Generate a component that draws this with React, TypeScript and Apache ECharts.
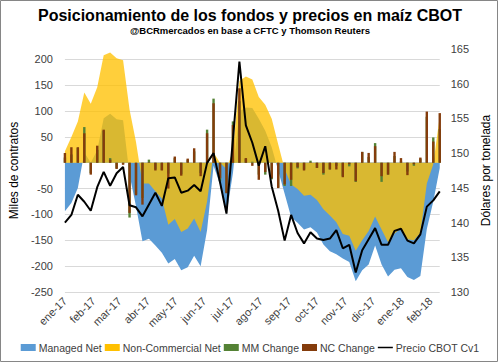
import React, { useEffect, useRef } from 'react';
import * as echarts from 'echarts';

const weeks = [
  '2017-01-03', '2017-01-10', '2017-01-17', '2017-01-24', '2017-01-31',
  '2017-02-07', '2017-02-14', '2017-02-21', '2017-02-28',
  '2017-03-07', '2017-03-14', '2017-03-21', '2017-03-28',
  '2017-04-04', '2017-04-11', '2017-04-18', '2017-04-25',
  '2017-05-02', '2017-05-09', '2017-05-16', '2017-05-23', '2017-05-30',
  '2017-06-06', '2017-06-13', '2017-06-20', '2017-06-27',
  '2017-07-04', '2017-07-11', '2017-07-18', '2017-07-25',
  '2017-08-01', '2017-08-08', '2017-08-15', '2017-08-22', '2017-08-29',
  '2017-09-05', '2017-09-12', '2017-09-19', '2017-09-26',
  '2017-10-03', '2017-10-10', '2017-10-17', '2017-10-24', '2017-10-31',
  '2017-11-07', '2017-11-14', '2017-11-21', '2017-11-28',
  '2017-12-05', '2017-12-12', '2017-12-19', '2017-12-26',
  '2018-01-02', '2018-01-09', '2018-01-16', '2018-01-23', '2018-01-30',
  '2018-02-06', '2018-02-13',
];

const managedNet = [
  -94, -78, -49, 20, 0, 24, 86, 95, 84, 82,
  -23, -84, -152, -147, -160, -174, -195, -186, -208, -202,
  -180, -200, -130, -6, -42, -100, -20, 99, 107, 106,
  85, 62, 30, -15, -60, -105, -116, -129, -125, -135,
  -158, -171, -177, -185, -192, -229, -208, -197, -160, -197,
  -220, -207, -204, -221, -227, -219, -128, -75, -10,
];

const nonCommercialNet = [
  22, 50, 80, 136, 114, 146, 208, 213, 202, 198,
  103, 40, -40, -40, -55, -69, -120, -109, -134, -127,
  -108, -134, -75, 20, 0, -12, 22, 158, 167, 161,
  127, 112, 85, 36, -12, -42, -51, -64, -62, -72,
  -90, -102, -115, -138, -141, -170, -150, -132, -104, -129,
  -154, -137, -127, -148, -150, -136, -40, -3, 90,
];

const mmChange = [
  10, 16, 29, 69, -20, 25, 62, 9, -11, -2,
  -106, -61, -68, 6, -13, -14, -21, 9, -22, 6,
  22, -20, 64, 124, -36, -58, 80, 119, 8, 2,
  -23, -23, -32, -48, -45, -45, -11, -13, 4, -10,
  -23, -13, -6, -26, -7, -37, 21, 11, 38, -37,
  -23, 13, 3, -17, -6, 8, 89, 49, 65,
];

const ncChange = [
  19, 30, 30, 57, -23, 33, 64, 6, -12, -4,
  -97, -63, -81, 1, -15, -15, -50, 12, -25, 8,
  28, -26, 57, 115, -30, -59, 73, 144, 9, -6,
  -33, -18, -30, -49, -42, -33, -9, -15, 1, -10,
  -20, -13, -13, -28, -3, -36, 21, 19, 32, -26,
  -23, 21, 9, -24, -3, 10, 99, 41, 96,
];

const precioCBOT = [
  140.0, 141.1, 144.0, 143.0, 141.7, 145.1, 147.3, 145.3, 147.1, 148.0,
  142.5, 142.2, 140.9, 142.6, 144.3, 142.4, 146.4, 146.5, 144.3, 144.6,
  145.4, 144.5, 148.6, 150.0, 145.8, 141.3, 152.0, 163.2, 154.0, 151.5,
  148.2, 151.0, 145.2, 141.7, 137.4, 141.1, 138.5, 137.0, 138.6, 137.7,
  137.5, 137.7, 138.9, 136.3, 136.8, 132.8, 136.0, 137.6, 139.2, 136.8,
  136.8, 138.8, 139.1, 137.4, 137.0, 138.3, 142.3, 143.2, 144.5,
];

const monthTicks = [
  '2017-01-03', '2017-02-03', '2017-03-03', '2017-04-03', '2017-05-03',
  '2017-06-03', '2017-07-03', '2017-08-03', '2017-09-03', '2017-10-03',
  '2017-11-03', '2017-12-03', '2018-01-03', '2018-02-03',
];
const monthNames = ['ene', 'feb', 'mar', 'abr', 'may', 'jun', 'jul', 'ago', 'sep', 'oct', 'nov', 'dic'];

const seriesNames = ['Managed Net', 'Non-Commercial Net', 'MM Change', 'NC Change', 'Precio CBOT Cv1'];

function ts(s: string): number {
  const [y, m, d] = s.split('-').map(Number);
  return new Date(y, m - 1, d).getTime();
}

const FONT = '"Liberation Sans", Arial, sans-serif';
const LINE_ICON =
  'path://M0,0L0.1,0L0.1,0.1L0,0.1Z M0,2.7L15,2.7L15,4.3L0,4.3Z M14.9,6.9L15,6.9L15,7L14.9,7Z';

export default function App() {
  const ref = useRef<HTMLDivElement>(null);

  useEffect(() => {
    if (!ref.current) return;
    const chart = echarts.init(ref.current, undefined, { renderer: 'svg' });
    const pairs = (arr: number[]) => weeks.map((w, i) => [ts(w), arr[i]]);

    chart.setOption({
      animation: false,
      backgroundColor: '#ffffff',
      textStyle: { fontFamily: FONT },
      graphic: [
        {
          type: 'rect',
          shape: { x: 0.5, y: 0.5, width: 497, height: 361 },
          style: { fill: 'none', stroke: '#868686', lineWidth: 1 },
          silent: true,
        },
        {
          type: 'text',
          x: 250,
          y: 15,
          style: {
            text: 'Posicionamiento de los fondos y precios en maíz CBOT',
            textAlign: 'center',
            textVerticalAlign: 'middle',
            font: 'bold 16px "Liberation Sans Narrow", "Liberation Sans", sans-serif',
            fill: '#000000',
          },
        },
        {
          type: 'text',
          x: 250,
          y: 30.5,
          style: {
            text: '@BCRmercados en base a CFTC y Thomson Reuters',
            textAlign: 'center',
            textVerticalAlign: 'middle',
            font: 'bold 9.5px "Liberation Sans Narrow", "Liberation Sans", sans-serif',
            fill: '#000000',
          },
        },
      ],
      legend: {
        top: 342,
        left: 'center',
        width: 500,
        padding: 0,
        itemWidth: 15,
        itemHeight: 7,
        itemGap: 3,
        textStyle: { fontSize: 10.5, color: '#404040', fontFamily: FONT, padding: [0, 0, 0, -2] },
        data: [
          { name: seriesNames[0], icon: 'rect' },
          { name: seriesNames[1], icon: 'rect' },
          { name: seriesNames[2], icon: 'rect' },
          { name: seriesNames[3], icon: 'rect' },
          { name: seriesNames[4], icon: LINE_ICON, itemStyle: { color: '#000000' } },
        ],
      },
      grid: { left: 58, right: 55, top: 49, bottom: 71, containLabel: false },
      xAxis: {
        type: 'value',
        min: ts(weeks[0]),
        max: ts(weeks[weeks.length - 1]),
        axisLine: { show: false },
        axisTick: { show: false },
        splitLine: { show: false },
        axisLabel: {
          customValues: monthTicks.map(ts),
          formatter: (v: number) => {
            const d = new Date(v);
            return monthNames[d.getMonth()] + '-' + String(d.getFullYear()).slice(2);
          },
          rotate: 45,
          margin: 7,
          fontSize: 11,
          color: '#404040',
          fontFamily: FONT,
        },
      },
      yAxis: [
        {
          type: 'value',
          position: 'left',
          min: -250,
          max: 220,
          interval: 50,
          name: 'Miles de contratos',
          nameLocation: 'middle',
          nameGap: 34,
          nameRotate: 90,
          nameTextStyle: { fontSize: 12, color: '#000000', fontFamily: FONT },
          axisLine: { show: false },
          axisTick: { show: false },
          axisLabel: {
            showMaxLabel: false,
            formatter: (v: number) => (v === 0 ? '' : String(v)),
            fontSize: 11,
            color: '#404040',
            margin: 12,
            fontFamily: FONT,
          },
          splitLine: { show: true, showMaxLine: false, lineStyle: { color: '#D9D9D9', width: 1 } },
        },
        {
          type: 'value',
          position: 'right',
          min: 130,
          max: 165,
          interval: 5,
          name: 'Dólares por tonelada',
          nameLocation: 'middle',
          nameGap: 34,
          nameRotate: 90,
          nameTextStyle: { fontSize: 12, color: '#000000', fontFamily: FONT },
          axisLine: { show: false },
          axisTick: { show: false },
          axisLabel: { fontSize: 11, color: '#404040', margin: 11, fontFamily: FONT },
          splitLine: { show: false },
        },
      ],
      series: [
        {
          name: seriesNames[0],
          type: 'line',
          yAxisIndex: 0,
          data: pairs(managedNet),
          symbol: 'none',
          color: '#5B9BD5',
          lineStyle: { width: 0, color: '#5B9BD5' },
          areaStyle: { color: '#5B9BD5', opacity: 1 },
          z: 1,
        },
        {
          name: seriesNames[1],
          type: 'line',
          yAxisIndex: 0,
          data: pairs(nonCommercialNet),
          symbol: 'none',
          color: '#FFC000',
          lineStyle: { width: 0, color: '#FFC000' },
          areaStyle: { color: '#FFC000', opacity: 0.77 },
          z: 1,
        },
        {
          name: seriesNames[2],
          type: 'bar',
          yAxisIndex: 0,
          data: pairs(mmChange),
          color: '#548235',
          barWidth: 2.4,
          barGap: '-100%',
          z: 2,
        },
        {
          name: seriesNames[3],
          type: 'bar',
          yAxisIndex: 0,
          data: pairs(ncChange),
          color: '#843C0C',
          barWidth: 2.4,
          barGap: '-100%',
          z: 2,
        },
        {
          name: seriesNames[4],
          type: 'line',
          yAxisIndex: 1,
          data: pairs(precioCBOT),
          symbol: 'none',
          color: '#000000',
          lineStyle: { width: 2, color: '#000000' },
          z: 3,
        },
      ],
    });

    return () => chart.dispose();
  }, []);

  return (
    <div
      ref={ref}
      style={{ position: 'absolute', left: 0, top: 0, width: 500, height: 363, background: '#fff' }}
    />
  );
}
